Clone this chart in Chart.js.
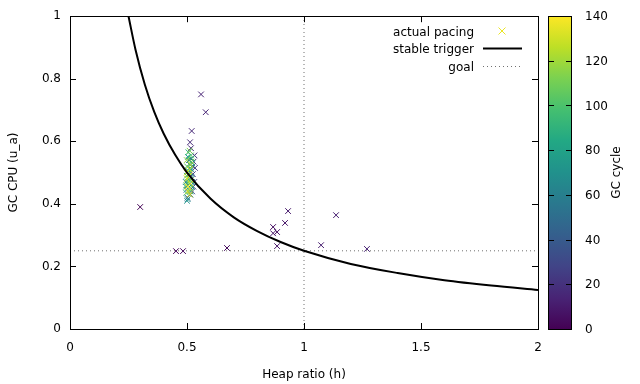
<!DOCTYPE html>
<html>
<head>
<meta charset="utf-8">
<script src="https://cdn.jsdelivr.net/npm/chart.js@4/dist/chart.umd.min.js"></script>
<style>
  html, body { margin: 0; padding: 0; background: #fff; }
  #wrap { width: 640px; height: 384px; }
</style>
</head>
<body>
<div id="wrap"><canvas id="chart" width="640" height="384"></canvas></div>
<script>
// GC cycle number, heap ratio (h) and GC CPU (u_a) for each pacing sample
const cycles = [
  1, 2, 3, 4, 5, 6, 7, 8, 9, 10, 11, 12, 13, 14, 15, 16, 17, 18,
  20, 22, 24, 26, 28, 30, 32, 34, 36, 38, 40, 42, 44, 46, 48, 50, 52, 54, 56, 58,
  60, 62, 64, 66, 68, 70, 72, 74, 76, 78, 80, 82, 84, 86, 88, 90, 92, 94, 96, 98,
  100, 102, 104, 106, 108, 110, 112, 114, 116, 118, 120, 122, 124, 126, 128, 130,
  132, 134, 136, 138, 140
];
const heapRatio = [
  0.300, 0.453, 0.483, 0.671, 0.868, 0.885, 0.868, 0.885, 0.919, 0.932, 1.073, 1.137, 1.269, 0.560, 0.580, 0.520, 0.513, 0.517,
  0.532, 0.528, 0.534, 0.525, 0.531, 0.527, 0.522, 0.518, 0.524, 0.512, 0.520, 0.505, 0.515, 0.502, 0.522, 0.508, 0.518, 0.498, 0.515, 0.506,
  0.520, 0.495, 0.512, 0.503, 0.518, 0.500, 0.515, 0.507, 0.522, 0.496, 0.512, 0.504, 0.518, 0.499, 0.514, 0.506, 0.520, 0.497, 0.511, 0.503,
  0.517, 0.500, 0.513, 0.505, 0.519, 0.497, 0.511, 0.504, 0.516, 0.499, 0.512, 0.505, 0.515, 0.500, 0.511, 0.504,
  0.514, 0.498, 0.509, 0.503, 0.512
];
const gcCpu = [
  0.390, 0.249, 0.249, 0.259, 0.326, 0.310, 0.306, 0.265, 0.339, 0.377, 0.268, 0.364, 0.256, 0.750, 0.693, 0.633, 0.597, 0.578,
  0.555, 0.535, 0.515, 0.495, 0.470, 0.455, 0.440, 0.545, 0.520, 0.430, 0.480, 0.460, 0.500, 0.420, 0.470, 0.540, 0.510, 0.445, 0.430, 0.495,
  0.455, 0.470, 0.525, 0.415, 0.485, 0.410, 0.440, 0.505, 0.530, 0.455, 0.475, 0.550, 0.460, 0.490, 0.515, 0.565, 0.545, 0.435, 0.500, 0.470,
  0.555, 0.520, 0.440, 0.485, 0.535, 0.460, 0.570, 0.505, 0.475, 0.540, 0.450, 0.495, 0.525, 0.480, 0.510, 0.440,
  0.465, 0.500, 0.490, 0.455, 0.430
];

// stable trigger curve
const curveH = [0.25, 0.28, 0.32, 0.36, 0.40, 0.45, 0.50, 0.60, 0.70, 0.80, 0.90, 1.00, 1.20, 1.40, 1.60, 1.80, 2.00];
const curveU = [1.000, 0.893, 0.781, 0.694, 0.625, 0.556, 0.500, 0.417, 0.357, 0.313, 0.278, 0.250, 0.208, 0.179, 0.156, 0.139, 0.125];

// goal
const goalH = 1;
const goalU = 0.25;

const xTicks = [0, 0.5, 1, 1.5, 2];
const yTicks = [0, 0.2, 0.4, 0.6, 0.8, 1];
const cbTicks = [0, 20, 40, 60, 80, 100, 120, 140];
const cbMin = 0, cbMax = 140;

const FONT = 'DejaVu Sans';

const viridisStops = [
  '#440154', '#482475', '#414487', '#355f8d', '#2a788e', '#21918c',
  '#22a884', '#44bf70', '#7ad151', '#bddf26', '#fde725'
];

function hexToRgb(h) {
  return [parseInt(h.slice(1, 3), 16), parseInt(h.slice(3, 5), 16), parseInt(h.slice(5, 7), 16)];
}

function viridis(t) {
  t = Math.max(0, Math.min(1, t));
  const n = viridisStops.length - 1;
  const i = Math.min(n - 1, Math.floor(t * n));
  const f = t * n - i;
  const a = hexToRgb(viridisStops[i]);
  const b = hexToRgb(viridisStops[i + 1]);
  const c = a.map((v, k) => Math.round(v + (b[k] - v) * f));
  return `rgb(${c[0]},${c[1]},${c[2]})`;
}

const pointColors = cycles.map(c => viridis((c - cbMin) / (cbMax - cbMin)));

const pacingPoints = cycles.map((c, i) => ({ x: heapRatio[i], y: gcCpu[i] }));
const curvePoints = curveH.map((h, i) => ({ x: h, y: curveU[i] }));

// inward ticks on all four sides, gnuplot style
const borderTicks = {
  id: 'borderTicks',
  afterDraw(chart) {
    const { ctx, chartArea: a, scales } = chart;
    ctx.save();
    ctx.strokeStyle = '#000';
    ctx.lineWidth = 1;
    ctx.beginPath();
    xTicks.forEach(v => {
      const px = Math.round(scales.x.getPixelForValue(v)) + 0.5;
      if (v === xTicks[0] || v === xTicks[xTicks.length - 1]) return;
      ctx.moveTo(px, a.bottom); ctx.lineTo(px, a.bottom - 6);
      ctx.moveTo(px, a.top); ctx.lineTo(px, a.top + 6);
    });
    yTicks.forEach(v => {
      const py = Math.round(scales.y.getPixelForValue(v)) + 0.5;
      if (v === yTicks[0] || v === yTicks[yTicks.length - 1]) return;
      ctx.moveTo(a.left, py); ctx.lineTo(a.left + 6, py);
      ctx.moveTo(a.right, py); ctx.lineTo(a.right - 6, py);
    });
    ctx.stroke();
    ctx.strokeRect(Math.round(a.left) + 0.5, Math.round(a.top) + 0.5,
      Math.round(a.right - a.left), Math.round(a.bottom - a.top));
    ctx.restore();
  }
};

// key in top right corner: text right aligned, sample to the right
const keyBox = {
  id: 'keyBox',
  afterDraw(chart) {
    const { ctx } = chart;
    const textRight = 474, sx0 = 483, sx1 = 522;
    const rows = [31, 48, 66];
    ctx.save();
    ctx.font = `12px "${FONT}"`;
    ctx.fillStyle = '#000';
    ctx.textAlign = 'right';
    ctx.textBaseline = 'middle';
    chart.data.datasets.slice().sort((p, q) => p.keyRow - q.keyRow).forEach((ds, i) => {
      const y = rows[i];
      ctx.fillText(ds.label, textRight, y + 2);
      if (ds.keyRow === 0) {
        ctx.strokeStyle = viridis(0.97);
        ctx.lineWidth = 1;
        ctx.beginPath();
        const cx = 502, r = 3.5;
        ctx.moveTo(cx - r, y - r); ctx.lineTo(cx + r, y + r);
        ctx.moveTo(cx - r, y + r); ctx.lineTo(cx + r, y - r);
        ctx.stroke();
      } else {
        ctx.strokeStyle = ds.borderColor;
        ctx.lineWidth = ds.borderWidth;
        ctx.setLineDash(ds.borderDash || []);
        ctx.beginPath();
        ctx.moveTo(sx0, y + 0.5); ctx.lineTo(sx1, y + 0.5);
        ctx.stroke();
        ctx.setLineDash([]);
      }
    });
    ctx.restore();
  }
};

// colour box for GC cycle
const colorBox = {
  id: 'colorBox',
  afterDraw(chart) {
    const { ctx, chartArea: a } = chart;
    const left = 548, right = 571;
    const top = Math.round(a.top), bottom = Math.round(a.bottom);
    ctx.save();
    const g = ctx.createLinearGradient(0, bottom, 0, top);
    viridisStops.forEach((c, i) => g.addColorStop(i / (viridisStops.length - 1), c));
    ctx.fillStyle = g;
    ctx.fillRect(left, top, right - left, bottom - top);
    ctx.strokeStyle = '#000';
    ctx.lineWidth = 1;
    ctx.strokeRect(left + 0.5, top + 0.5, right - left, bottom - top);
    ctx.beginPath();
    ctx.font = `12px "${FONT}"`;
    ctx.fillStyle = '#000';
    ctx.textAlign = 'left';
    ctx.textBaseline = 'middle';
    cbTicks.forEach(v => {
      const py = bottom - (v - cbMin) / (cbMax - cbMin) * (bottom - top);
      const ly = Math.round(py) + 0.5;
      if (v !== cbMin && v !== cbMax) {
        ctx.moveTo(left, ly); ctx.lineTo(left + 6, ly);
        ctx.moveTo(right + 1, ly); ctx.lineTo(right - 5, ly);
      }
      ctx.fillText(String(v), 585, py + 1);
    });
    ctx.stroke();
    ctx.translate(617, (top + bottom) / 2);
    ctx.rotate(-Math.PI / 2);
    ctx.textAlign = 'center';
    ctx.fillText('GC cycle', 0, 0);
    ctx.restore();
  }
};

new Chart(document.getElementById('chart'), {
  type: 'scatter',
  data: {
    datasets: [
      {
        label: 'stable trigger',
        keyRow: 1,
        data: curvePoints,
        showLine: true,
        borderColor: '#000',
        borderWidth: 2,
        pointRadius: 0,
        cubicInterpolationMode: 'monotone',
        order: 0
      },
      {
        label: 'actual pacing',
        keyRow: 0,
        data: pacingPoints,
        pointStyle: 'crossRot',
        pointRadius: 4,
        pointBorderWidth: 1,
        borderColor: pointColors,
        backgroundColor: pointColors,
        order: 1
      },
      {
        label: 'goal',
        keyRow: 2,
        data: [{ x: 0, y: goalU }, { x: 2, y: goalU }, { x: null, y: null }, { x: goalH, y: 0 }, { x: goalH, y: 1 }],
        showLine: true,
        spanGaps: false,
        borderColor: '#707070',
        borderWidth: 1,
        borderDash: [1, 3],
        pointRadius: 0,
        order: 2
      }
    ]
  },
  options: {
    responsive: false,
    animation: false,
    layout: { padding: { top: 16, right: 102, left: 0, bottom: 0 } },
    plugins: {
      legend: { display: false },
      tooltip: { enabled: false }
    },
    scales: {
      x: {
        type: 'linear',
        min: 0, max: 2,
        afterBuildTicks: s => { s.ticks = xTicks.map(v => ({ value: v })); },
        afterFit: s => { s.height = 55; },
        grid: { drawOnChartArea: false, drawTicks: false },
        border: { display: false },
        ticks: { padding: 12, color: '#000', font: { family: FONT, size: 12 }, maxRotation: 0, callback: v => String(v) },
        title: { display: true, text: 'Heap ratio (h)', color: '#000', font: { family: FONT, size: 12 }, padding: { top: 0, bottom: 2 } }
      },
      y: {
        type: 'linear',
        min: 0, max: 1,
        afterBuildTicks: s => { s.ticks = yTicks.map(v => ({ value: v })); },
        afterFit: s => { s.width = 70; },
        grid: { drawOnChartArea: false, drawTicks: false },
        border: { display: false },
        ticks: { padding: 9, color: '#000', font: { family: FONT, size: 12 }, callback: v => String(v) },
        title: { display: true, text: 'GC CPU (u_a)', color: '#000', font: { family: FONT, size: 12 }, padding: { top: 7, bottom: 0 } }
      }
    }
  },
  plugins: [borderTicks, keyBox, colorBox]
});
</script>
</body>
</html>
